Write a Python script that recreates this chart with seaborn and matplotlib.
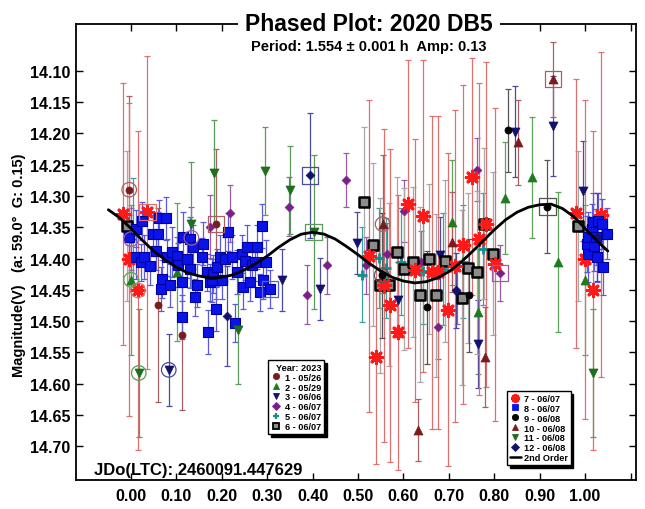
import matplotlib
matplotlib.use("Agg")
import matplotlib.pyplot as plt
from matplotlib.lines import Line2D
import seaborn as sns

# ===============================================
# DATA: phase, magnitude and error of each session
# ===============================================

ph1 = [-0.004, 0.059, 0.112, 0.187]
mag1 = [14.290, 14.474, 14.522, 14.345]
err1 = [0.15, 0.155, 0.12, 0.12]
ring1 = {0: 'o', 3: 's'}

ph2 = [0.000, 0.101, 0.706, 0.765, 0.824, 0.883, 0.941, 1.000]
mag2 = [14.434, 14.422, 14.342, 14.485, 14.303, 14.270, 14.405, 14.435]
err2 = [0.12, 0.11, 0.10, 0.10, 0.09, 0.097, 0.112, 0.12]
ring2 = {0: 'o'}

ph3 = [0.083, 0.332, 0.416, 0.497, 0.589, 0.680, 0.764, 0.846, 0.929, 0.996]
mag3 = [14.578, 14.434, 14.449, 14.375, 14.466, 14.394, 14.537, 14.197, 14.188, 14.292]
err3 = [0.057, 0.05, 0.05, 0.05, 0.06, 0.06, 0.07, 0.073, 0.08, 0.08]
ring3 = {0: 'o'}

ph4 = [0.000, 0.133, 0.174, 0.217, 0.347, 0.388, 0.431, 0.474,
       0.518, 0.563, 0.601, 0.638, 0.677, 0.717, 0.761, 0.813]
mag4 = [14.369, 14.367, 14.349, 14.328, 14.317, 14.458, 14.411, 14.274,
        14.411, 14.393, 14.324, 14.406, 14.510, 14.454, 14.258, 14.423]
err4 = [0.05, 0.05, 0.05, 0.046, 0.047, 0.047, 0.046, 0.043,
        0.045, 0.05, 0.05, 0.05, 0.05, 0.05, 0.05, 0.045]
ring4 = {0: 'o', 1: 'o', 15: 's'}

ph5 = [0.005, 0.508, 0.545, 0.561, 0.595, 0.644, 0.688, 0.732, 0.775]
mag5 = [14.362, 14.426, 14.399, 14.415, 14.405, 14.420, 14.417, 14.405, 14.385]
err5 = [0.09, 0.076, 0.08, 0.08, 0.085, 0.085, 0.09, 0.09, 0.09]
ring5 = {}

ph6 = [-0.010, 0.514, 0.532, 0.548, 0.567, 0.585, 0.601, 0.620, 0.637,
       0.656, 0.672, 0.692, 0.728, 0.743, 0.761, 0.778, 0.797, 0.985]
mag6 = [14.348, 14.310, 14.378, 14.443, 14.442, 14.390, 14.417, 14.406, 14.458,
        14.401, 14.459, 14.404, 14.463, 14.415, 14.422, 14.344, 14.392, 14.348]
err6 = [0.12, 0.12, 0.13, 0.14, 0.13, 0.12, 0.13, 0.12, 0.14,
        0.12, 0.13, 0.13, 0.14, 0.12, 0.13, 0.12, 0.13, 0.12]
ring6 = {}

ph7 = [-0.018, -0.004, 0.015, 0.036, 0.523, 0.539, 0.556, 0.570, 0.589,
       0.609, 0.626, 0.644, 0.662, 0.677, 0.697, 0.714, 0.732, 0.750,
       0.767, 0.782, 0.802, 0.980, 1.000, 1.017, 1.035]
mag7 = [14.329, 14.401, 14.451, 14.326, 14.396, 14.558, 14.443, 14.475, 14.518,
        14.313, 14.419, 14.332, 14.422, 14.422, 14.482, 14.412, 14.378, 14.269,
        14.369, 14.345, 14.409, 14.328, 14.401, 14.451, 14.330]
err7 = [0.21, 0.25, 0.255, 0.25, 0.25, 0.17, 0.25, 0.25, 0.22,
        0.23, 0.21, 0.25, 0.25, 0.25, 0.25, 0.25, 0.255, 0.19,
        0.25, 0.26, 0.25, 0.215, 0.255, 0.255, 0.26]
ring7 = {2: 'o', 3: 's'}

ph8 = [-0.004, 0.010, 0.011, 0.022, 0.025, 0.029, 0.042, 0.048, 0.055, 0.059,
       0.061, 0.065, 0.068, 0.076, 0.080, 0.086, 0.090, 0.101, 0.104, 0.112,
       0.112, 0.115, 0.123, 0.130, 0.130, 0.137, 0.141, 0.145, 0.156, 0.158,
       0.167, 0.170, 0.174, 0.178, 0.181, 0.187, 0.189, 0.196, 0.200, 0.207,
       0.214, 0.222, 0.228, 0.233, 0.244, 0.247, 0.251, 0.255, 0.262, 0.266,
       0.273, 0.277, 0.284, 0.288, 0.291, 0.297, 0.306, 1.004, 1.007, 1.007,
       1.015, 1.017, 1.020, 1.024, 1.026, 1.029, 1.037, 1.040, 1.048]
mag8 = [14.366, 14.352, 14.398, 14.406, 14.340, 14.398, 14.412, 14.361, 14.388, 14.361,
        14.336, 14.449, 14.433, 14.336, 14.398, 14.443, 14.390, 14.396, 14.410, 14.438,
        14.494, 14.365, 14.401, 14.369, 14.417, 14.382, 14.462, 14.443, 14.397, 14.376,
        14.422, 14.517, 14.438, 14.435, 14.425, 14.481, 14.414, 14.398, 14.435, 14.401,
        14.358, 14.398, 14.503, 14.422, 14.393, 14.446, 14.404, 14.382, 14.438, 14.411,
        14.406, 14.382, 14.454, 14.348, 14.435, 14.406, 14.449, 14.377, 14.366, 14.393,
        14.353, 14.341, 14.380, 14.366, 14.397, 14.340, 14.345, 14.413, 14.360]
err8 = [0.035, 0.03, 0.035, 0.03, 0.03, 0.035, 0.03, 0.035, 0.03, 0.035,
        0.03, 0.035, 0.03, 0.035, 0.03, 0.035, 0.04, 0.03, 0.035, 0.03,
        0.035, 0.04, 0.03, 0.035, 0.03, 0.035, 0.03, 0.035, 0.03, 0.035,
        0.03, 0.035, 0.03, 0.035, 0.03, 0.035, 0.03, 0.035, 0.03, 0.035,
        0.03, 0.035, 0.03, 0.035, 0.03, 0.035, 0.03, 0.035, 0.03, 0.035,
        0.03, 0.035, 0.03, 0.035, 0.03, 0.035, 0.03, 0.045, 0.04, 0.045,
        0.04, 0.045, 0.04, 0.045, 0.04, 0.045, 0.04, 0.045, 0.04]
ring8 = {56: 's'}

ph9 = [0.552, 0.651, 0.745, 0.831, 0.917]
mag9 = [14.427, 14.478, 14.459, 14.195, 14.317]
err9 = [0.10, 0.09, 0.09, 0.066, 0.074]
ring9 = {0: 'o', 4: 's'}

ph10 = [0.554, 0.633, 0.706, 0.780, 0.853, 0.929]
mag10 = [14.345, 14.674, 14.374, 14.558, 14.214, 14.113]
err10 = [0.11, 0.05, 0.08, 0.08, 0.068, 0.06]
ring10 = {0: 'o', 5: 's'}

ph11 = [0.017, 0.131, 0.182, 0.236, 0.295, 0.349, 0.402, 1.017]
mag11 = [14.583, 14.345, 14.264, 14.515, 14.260, 14.290, 14.358, 14.583]
err11 = [0.103, 0.10, 0.085, 0.085, 0.07, 0.07, 0.123, 0.103]
ring11 = {0: 'o', 6: 's'}

ph12 = [0.212, 0.394, 0.716, 1.026]
mag12 = [14.492, 14.267, 14.451, 14.366]
err12 = [0.08, 0.10, 0.06, 0.07]
ring12 = {1: 's'}

# 2nd order fit
fit_ph = [-0.050, -0.025, 0.000, 0.025, 0.050, 0.075, 0.100, 0.125, 0.150,
          0.175, 0.200, 0.225, 0.250, 0.275, 0.300, 0.325, 0.350, 0.375,
          0.400, 0.425, 0.450, 0.475, 0.500, 0.525, 0.550, 0.575, 0.600,
          0.625, 0.650, 0.675, 0.700, 0.725, 0.750, 0.775, 0.800, 0.825,
          0.850, 0.875, 0.900, 0.925, 0.950, 0.975, 1.000, 1.025, 1.050]
fit_mag = [14.322, 14.335, 14.352, 14.371, 14.388, 14.402, 14.414, 14.423, 14.428,
           14.431, 14.430, 14.426, 14.418, 14.408, 14.396, 14.382, 14.370, 14.361,
           14.358, 14.361, 14.369, 14.381, 14.394, 14.408, 14.420, 14.430, 14.436,
           14.439, 14.437, 14.431, 14.421, 14.407, 14.390, 14.372, 14.354, 14.338,
           14.326, 14.318, 14.314, 14.313, 14.320, 14.333, 14.352, 14.371, 14.388]

xticks = [0.0, 0.1, 0.2, 0.3, 0.4, 0.5, 0.6, 0.7, 0.8, 0.9, 1.0, 1.1]
xtick_labels = ['0.00', '0.10', '0.20', '0.30', '0.40', '0.50', '0.60',
                '0.70', '0.80', '0.90', '1.00', '']
yticks = [14.10, 14.15, 14.20, 14.25, 14.30, 14.35, 14.40,
          14.45, 14.50, 14.55, 14.60, 14.65, 14.70]

ASTER = (8, 2, 0)

# label, data, marker, colour, errorbar colour, size, edge, line width
sessions = [
    ('1 - 05/26', ph1, mag1, err1, ring1, 'o', '#7a1c1c', '#a86060', 26, '#7a1c1c', 0.5),
    ('2 - 05/29', ph2, mag2, err2, ring2, '^', '#1e7b1e', '#5aa55a', 42, '#1e7b1e', 0.5),
    ('3 - 06/06', ph3, mag3, err3, ring3, 'v', '#12126e', '#4a4aa0', 42, '#12126e', 0.5),
    ('4 - 06/07', ph4, mag4, err4, ring4, 'D', '#7a1f8a', '#9a5aa8', 20, '#7a1f8a', 0.5),
    ('5 - 06/07', ph5, mag5, err5, ring5, '+', '#168c8c', '#3aa0a0', 55, None, 2.0),
    ('6 - 06/07', ph6, mag6, err6, ring6, 's', '#8c8c8c', '#a8a8a8', 58, 'black', 1.8),
    ('7 - 06/07', ph7, mag7, err7, ring7, ASTER, '#ff1a1a', '#e07070', 80, None, 2.2),
    ('8 - 06/07', ph8, mag8, err8, ring8, 's', '#0a14e6', '#5a5ae0', 62, '#0000a0', 0.8),
    ('9 - 06/08', ph9, mag9, err9, ring9, 'o', 'black', '#555555', 26, 'black', 0.5),
    ('10 - 06/08', ph10, mag10, err10, ring10, '^', '#7a1c1c', '#a86060', 42, '#7a1c1c', 0.5),
    ('11 - 06/08', ph11, mag11, err11, ring11, 'v', '#1e6e1e', '#5a9a5a', 42, '#1e6e1e', 0.5),
    ('12 - 06/08', ph12, mag12, err12, ring12, 'D', '#12126e', '#4a4aa0', 20, '#12126e', 0.5),
]

# ===============================================
# STYLE
# ===============================================
sns.set_style('ticks')
plt.rcParams['font.family'] = ['Liberation Sans', 'DejaVu Sans']
plt.rcParams['font.weight'] = 'bold'
plt.rcParams['text.color'] = 'black'
plt.rcParams['xtick.color'] = 'black'
plt.rcParams['ytick.color'] = 'black'
plt.rcParams['xtick.labelcolor'] = 'black'
plt.rcParams['ytick.labelcolor'] = 'black'

fig, ax = plt.subplots(figsize=(6.45, 5.10), dpi=100)
fig.subplots_adjust(left=0.118, right=0.986, top=0.951, bottom=0.057)

for lab, ph, mag, err, ring, mk, col, ecol, size, edge, lw in sessions:
    ax.errorbar(ph, mag, yerr=err, fmt='none', ecolor=ecol, elinewidth=0.9,
                capsize=2.2, capthick=0.9, zorder=2)

for lab, ph, mag, err, ring, mk, col, ecol, size, edge, lw in sessions:
    kw = dict(marker=mk, s=size, color=col, linewidth=lw, zorder=3, ax=ax, legend=False)
    if edge:
        kw['edgecolor'] = edge
    sns.scatterplot(x=ph, y=mag, **kw)
    for i, shape in ring.items():
        ax.scatter(ph[i], mag[i], marker=shape, s=110 if shape == 'o' else 140,
                   facecolors='none', edgecolors=ecol, linewidths=0.9, zorder=4)

sns.lineplot(x=fit_ph, y=fit_mag, color='black', linewidth=2, sort=False, ax=ax, zorder=5)

# axes
ax.set_xlim(-0.121, 1.112)
ax.set_ylim(14.754, 14.025)
ax.set_xticks(xticks)
ax.set_xticklabels(xtick_labels)
ax.set_yticks(yticks)
ax.set_yticklabels(['%.2f' % v for v in yticks])
ax.tick_params(direction='in', length=5, width=1, top=True, right=True,
               labelsize=11.5, color='black', labelcolor='black')
ax.tick_params(axis='x', pad=6)
ax.tick_params(axis='y', pad=4)
for s in ax.spines.values():
    s.set_linewidth(1.3)
    s.set_color('black')
ax.set_xlabel('')
ax.set_ylabel('')

# texts
fig.text(0.572, 0.951, 'Phased Plot: 2020 DB5', ha='center', va='center', fontsize=16.5,
         fontweight='bold', color='black',
         bbox=dict(boxstyle='square,pad=0.3', fc='white', ec='none'))
fig.text(0.572, 0.908, 'Period: 1.554 \u00b1 0.001 h  Amp: 0.13', ha='center', va='center',
         fontsize=10.5, fontweight='bold', color='black')
fig.text(0.146, 0.078, 'JDo(LTC): 2460091.447629', ha='left', va='center',
         fontsize=12, fontweight='bold', color='black')
fig.text(0.029, 0.48, 'Magnitude(V)   (a: 59.0\u00b0  G: 0.15)', rotation=90,
         ha='center', va='center', fontsize=10.5, fontweight='bold', color='black')

# legends
def handle(mk, col, edge=None, ms=5, mew=0.6):
    return Line2D([], [], ls='none', marker=mk, markerfacecolor=col, color=col,
                  markeredgecolor=edge or col, markersize=ms, markeredgewidth=mew)

h1 = [handle('o', '#7a1c1c', ms=4.5), handle('^', '#1e7b1e'), handle('v', '#12126e'),
      handle('D', '#7a1f8a', ms=3.8), handle('+', '#168c8c', mew=1.6),
      handle('s', '#8c8c8c', 'black', ms=5, mew=1.3)]
h2 = [handle(ASTER, '#ff1a1a', ms=6.5, mew=1.6), handle('s', '#0a14e6', ms=5),
      handle('o', 'black', ms=4.5), handle('^', '#7a1c1c'), handle('v', '#1e6e1e'),
      handle('D', '#12126e', ms=3.8),
      Line2D([], [], color='black', linewidth=1.8)]
labels1 = [s[0] for s in sessions[:6]]
labels2 = [s[0] for s in sessions[6:]] + ['2nd Order']

common = dict(loc='upper left', bbox_transform=fig.transFigure, frameon=True,
              fancybox=False, edgecolor='black', framealpha=1,
              shadow={'color': 'black', 'alpha': 1}, labelcolor='black',
              prop={'size': 6.6, 'weight': 'bold'}, borderpad=0.3, labelspacing=0.1,
              handlelength=1.2, handletextpad=0.35, borderaxespad=0)
leg1 = ax.legend(h1, labels1, bbox_to_anchor=(268 / 645, 1 - 361 / 510), title='Year: 2023',
                 title_fontproperties={'size': 6.6, 'weight': 'bold'}, alignment='right', **common)
leg1.get_frame().set_linewidth(1)
ax.add_artist(leg1)
leg2 = ax.legend(h2, labels2, bbox_to_anchor=(507 / 645, 1 - 392 / 510), **common)
leg2.get_frame().set_linewidth(1)

plt.savefig('out.png', dpi=100)
